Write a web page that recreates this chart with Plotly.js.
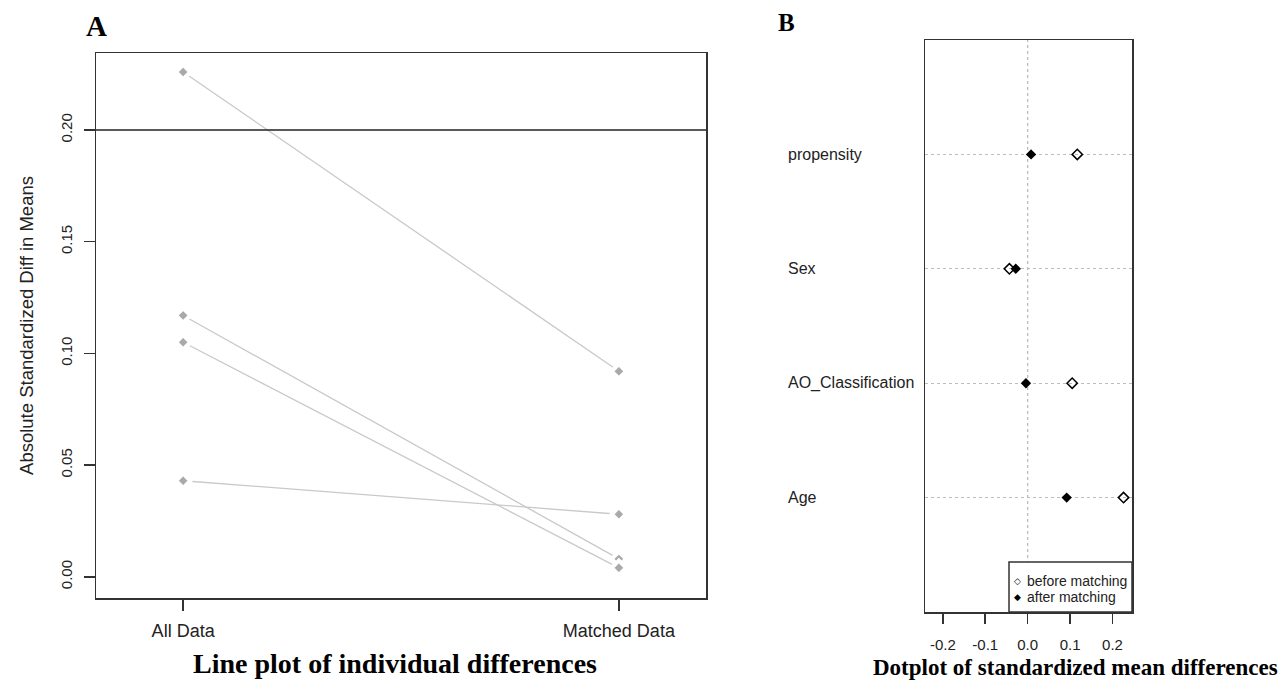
<!DOCTYPE html>
<html>
<head>
<meta charset="utf-8">
<script src="https://cdn.plot.ly/plotly-3.0.1.min.js"></script>
<style>
html,body{margin:0;padding:0;background:#fff;}
#chart{width:1283px;height:680px;}
</style>
</head>
<body>
<div id="chart"></div>
<script>
// ---- data ----
const variables = ['propensity', 'Sex', 'AO_Classification', 'Age'];
const beforeMatching = [0.117, -0.043, 0.105, 0.226];
const afterMatching = [0.008, -0.028, -0.004, 0.092];
const groups = ['All Data', 'Matched Data'];
const threshold = 0.20;
const yTicksA = [0, 0.05, 0.10, 0.15, 0.20];
const xTicksB = [-0.2, -0.1, 0.0, 0.1, 0.2];
const legendLabels = ['before matching', 'after matching'];
const legendSymbols = ['\u25C7', '\u25C6'];

const SANS = 'Liberation Sans, Arial, sans-serif';
const SERIF = 'Liberation Serif, Times New Roman, serif';
const INK = '#222';

const traces = [];

// Panel A: absolute standardized differences, one line per variable
variables.forEach((v, i) => {
  traces.push({
    type: 'scatter', mode: 'lines+markers',
    x: groups,
    y: [Math.abs(beforeMatching[i]), Math.abs(afterMatching[i])],
    xaxis: 'x', yaxis: 'y',
    line: {color: '#c9c9c9', width: 1.3},
    marker: {symbol: 'diamond', size: 11, color: '#a9a9a9', line: {color: '#ffffff', width: 4}},
    showlegend: false, hoverinfo: 'skip', cliponaxis: false
  });
});

// Panel B: dotplot
const rowPos = variables.map((v, i) => variables.length - i);
traces.push({
  type: 'scatter', mode: 'markers', name: legendLabels[0],
  x: beforeMatching, y: rowPos, xaxis: 'x2', yaxis: 'y2',
  marker: {symbol: 'diamond-open', size: 8, color: '#000', line: {width: 1.5, color: '#000'}},
  hoverinfo: 'skip', showlegend: false
});
traces.push({
  type: 'scatter', mode: 'markers', name: legendLabels[1],
  x: afterMatching, y: rowPos, xaxis: 'x2', yaxis: 'y2',
  marker: {symbol: 'diamond', size: 8, color: '#000'},
  hoverinfo: 'skip', showlegend: false
});

const H = 680, W = 1283;
const px = x => x / W;
const py = y => (H - y) / H;

const annotations = [
  {text: '<b>A</b>', xref: 'paper', yref: 'paper', x: px(96), y: py(26), showarrow: false,
   font: {family: SERIF, size: 29, color: '#000'}, xanchor: 'center', yanchor: 'middle'},
  {text: '<b>B</b>', xref: 'paper', yref: 'paper', x: px(786), y: py(23), showarrow: false,
   font: {family: SERIF, size: 25, color: '#000'}, xanchor: 'center', yanchor: 'middle'},
  {text: '<b>Line plot of individual differences</b>', xref: 'paper', yref: 'paper', x: px(395), y: py(663),
   showarrow: false, font: {family: SERIF, size: 28, color: '#000'}, xanchor: 'center', yanchor: 'middle'},
  {text: '<b>Dotplot of standardized mean differences</b>', xref: 'paper', yref: 'paper', x: px(1075), y: py(667),
   showarrow: false, font: {family: SERIF, size: 23, color: '#000'}, xanchor: 'center', yanchor: 'middle'}
];
variables.forEach((v, i) => {
  annotations.push({text: v, xref: 'paper', yref: 'y2', x: px(786), y: rowPos[i], showarrow: false,
    xanchor: 'left', yanchor: 'middle', font: {family: SANS, size: 16, color: INK}});
});
// manual legend (compact, as in the reference)
const legendRows = [581, 597];
legendLabels.forEach((lab, i) => {
  annotations.push({text: legendSymbols[i], xref: 'paper', yref: 'paper', x: px(1017), y: py(legendRows[i]),
    showarrow: false, xanchor: 'center', yanchor: 'middle', font: {family: 'DejaVu Sans', size: 9, color: '#000'}});
  annotations.push({text: lab, xref: 'paper', yref: 'paper', x: px(1025), y: py(legendRows[i]),
    showarrow: false, xanchor: 'left', yanchor: 'middle', font: {family: SANS, size: 14, color: INK}});
});

const layout = {
  width: W, height: H,
  margin: {l: 0, r: 0, t: 0, b: 0},
  paper_bgcolor: '#fff', plot_bgcolor: '#fff',
  showlegend: false,
  xaxis: {domain: [px(96), px(706)], type: 'category', categoryarray: groups, range: [-0.2, 1.2],
    showline: true, mirror: true, linecolor: '#333', linewidth: 1.5,
    ticks: 'outside', ticklen: 11, tickcolor: '#333', tickwidth: 1.5,
    showgrid: false, zeroline: false, automargin: false, ticklabelstandoff: 5,
    tickfont: {family: SANS, size: 18, color: INK}},
  yaxis: {domain: [py(598), py(53)], range: [-0.0095, 0.2345],
    tickvals: yTicksA, tickformat: '.2f', tickangle: -90,
    showline: true, mirror: true, linecolor: '#333', linewidth: 1.5,
    ticks: 'outside', ticklen: 11, tickcolor: '#333', tickwidth: 1.5,
    showgrid: false, zeroline: false, automargin: false, ticklabelstandoff: 6,
    tickfont: {family: SANS, size: 15, color: INK},
    title: {text: 'Absolute Standardized Diff in Means', standoff: 19, font: {family: SANS, size: 18.5, color: INK}}},
  xaxis2: {domain: [px(925), px(1132)], anchor: 'y2', range: [-0.242, 0.246],
    tickvals: xTicksB, ticktext: xTicksB.map(v => v.toFixed(1)),
    showline: true, mirror: true, linecolor: '#333', linewidth: 1.5,
    ticks: 'outside', ticklen: 10, tickcolor: '#333', tickwidth: 1.5,
    showgrid: false, zeroline: false, automargin: false, ticklabelstandoff: 8,
    tickfont: {family: SANS, size: 15, color: INK}},
  yaxis2: {domain: [py(612), py(40)], anchor: 'x2', range: [0, 5],
    tickvals: rowPos, showticklabels: false, ticks: '',
    showline: true, mirror: true, linecolor: '#333', linewidth: 1.5,
    showgrid: true, gridcolor: '#bdbdbd', griddash: 'dot', gridwidth: 1.3,
    zeroline: false, automargin: false},
  shapes: [
    {type: 'line', xref: 'x domain', x0: 0, x1: 1, yref: 'y', y0: threshold, y1: threshold,
     line: {color: '#222', width: 1.5}},
    {type: 'line', xref: 'x2', x0: 0, x1: 0, yref: 'y2 domain', y0: 0, y1: 1,
     line: {color: '#bdbdbd', width: 1.3, dash: 'dot'}, layer: 'below'},
    {type: 'rect', xref: 'paper', yref: 'paper', x0: px(1009), x1: px(1132), y0: py(612), y1: py(562),
     fillcolor: '#ffffff', line: {color: '#333', width: 1.5}, layer: 'above'}
  ],
  annotations: annotations
};

Plotly.newPlot('chart', traces, layout, {displayModeBar: false, staticPlot: true});
</script>
</body>
</html>
